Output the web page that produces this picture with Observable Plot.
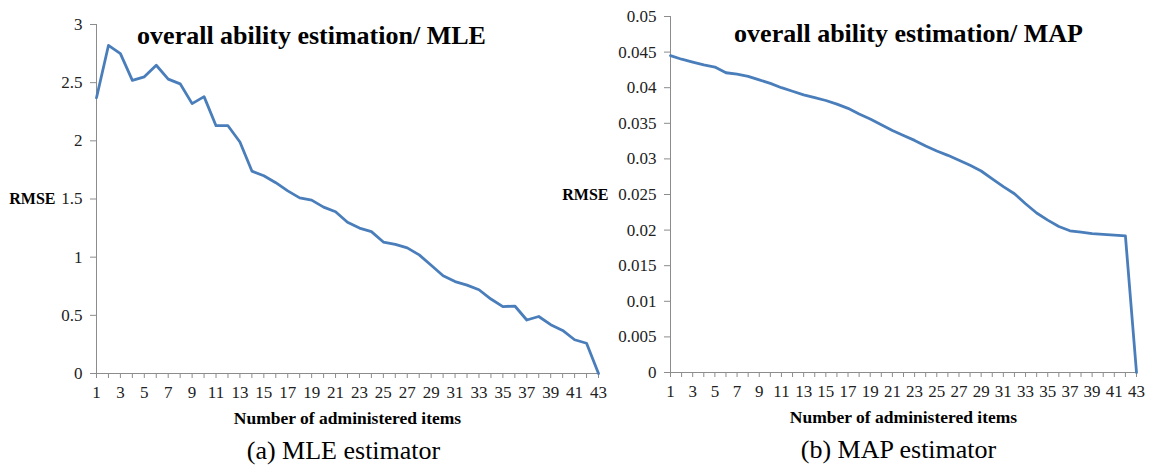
<!DOCTYPE html>
<html><head><meta charset="utf-8">
<script src="https://cdn.jsdelivr.net/npm/d3@7"></script>
<script src="https://cdn.jsdelivr.net/npm/@observablehq/plot@0.6"></script>
<style>
body{margin:0;background:#fff;}
#wrap{position:relative;width:1150px;height:468px;overflow:hidden;background:#fff;}
#left,#right{position:absolute;top:0;}
#left{left:0px}
#right{left:550px}
</style></head><body><div id="wrap"><div id="left"></div><div id="right"></div></div>
<script>
const items = [1,2,3,4,5,6,7,8,9,10,11,12,13,14,15,16,17,18,19,20,21,22,23,24,25,26,27,28,29,30,31,32,33,34,35,36,37,38,39,40,41,42,43];
const mleRmse = [2.37,2.82,2.75,2.52,2.55,2.65,2.53,2.49,2.32,2.38,2.13,2.13,1.99,1.74,1.70,1.64,1.57,1.51,1.49,1.43,1.39,1.30,1.25,1.22,1.13,1.11,1.08,1.02,0.93,0.84,0.79,0.76,0.72,0.64,0.575,0.58,0.46,0.49,0.42,0.37,0.29,0.26,0.0];
const mapRmse = [0.0445,0.0440,0.0436,0.0432,0.0429,0.0421,0.0419,0.0416,0.0411,0.0406,0.0400,0.0395,0.0390,0.0386,0.0382,0.0377,0.0371,0.0363,0.0356,0.0348,0.0340,0.0333,0.0326,0.0318,0.0311,0.0305,0.0298,0.0291,0.0283,0.0272,0.0261,0.0251,0.0237,0.0224,0.0214,0.0205,0.0199,0.0197,0.0195,0.0194,0.0193,0.0192,0.0];
const mleYTicks = [0,0.5,1,1.5,2,2.5,3];
const mapYTicks = [0,0.005,0.01,0.015,0.02,0.025,0.03,0.035,0.04,0.045,0.05];
const mleTitle = "overall ability estimation/ MLE";
const mapTitle = "overall ability estimation/ MAP";
const xTitle = "Number of administered items";
const yTitle = "RMSE";
const mleCaption = "(a) MLE estimator";
const mapCaption = "(b) MAP estimator";

const FONT = "'Liberation Serif', 'Times New Roman', serif";
const LINE = "#4a7ebb";
const AXIS = "#8c8c8c";

function panel(cfg) {
  const data = items.map((d, i) => ({item: d, rmse: cfg.values[i]}));
  const svg = Plot.plot({
    width: cfg.width, height: 468,
    marginLeft: cfg.ml, marginRight: cfg.mr, marginTop: cfg.mt, marginBottom: cfg.mb,
    style: {background: "transparent", overflow: "visible", color: "#222"},
    x: {domain: [1, 43]},
    y: {domain: cfg.ydomain},
    marks: [
      Plot.axisY({ticks: cfg.yticks, tickSize: 6, tickPadding: 8, fontSize: 17, stroke: AXIS, fill: "#222", label: null, tickFormat: d => String(d)}),
      Plot.axisX({ticks: items, tickSize: 5, tickPadding: 7, fontSize: 17, stroke: AXIS, fill: "#222", label: null, tickFormat: d => (d % 2 === 1 ? String(d) : "")}),
      Plot.ruleX([1], {stroke: AXIS, strokeWidth: 1}),
      Plot.ruleY([0], {stroke: AXIS, strokeWidth: 1}),
      Plot.line(data, {x: "item", y: "rmse", stroke: LINE, strokeWidth: 2.8, strokeLinejoin: "round"}),
      Plot.text([cfg.title], {frameAnchor: "top", lineAnchor: "middle", dx: cfg.tdx, dy: cfg.tdy, fontSize: 26, fontWeight: "bold", fill: "#000"}),
      Plot.text([yTitle], {frameAnchor: "left", lineAnchor: "middle", textAnchor: "end", dx: cfg.ydx, dy: cfg.ydy, fontSize: 16, fontWeight: "bold", fill: "#000"}),
      Plot.text([xTitle], {frameAnchor: "bottom", lineAnchor: "middle", dy: 45, fontSize: 17.5, fontWeight: "bold", fill: "#000"}),
      Plot.text([cfg.caption], {frameAnchor: "bottom", lineAnchor: "middle", dx: cfg.cdx, dy: 77, fontSize: 26, fill: "#000"})
    ]
  });
  svg.setAttribute("font-family", FONT);
  svg.style.fontFamily = FONT;
  svg.querySelectorAll("text, g").forEach(el => {
    if (el.hasAttribute("font-family")) el.setAttribute("font-family", FONT);
    el.style.fontFamily = FONT;
  });
  return svg;
}

document.getElementById("left").append(panel({
  values: mleRmse, width: 615, ml: 96, mr: 17, mt: 24, mb: 95,
  ydomain: [0, 3], yticks: mleYTicks, title: mleTitle, tdx: -36, tdy: 11,
  ydx: -41, ydy: 0, caption: mleCaption, cdx: -4
}));
document.getElementById("right").append(panel({
  values: mapRmse, width: 600, ml: 120, mr: 14, mt: 16, mb: 96,
  ydomain: [0, 0.05], yticks: mapYTicks, title: mapTitle, tdx: 5, tdy: 17,
  ydx: -62, ydy: 0, caption: mapCaption, cdx: -5
}));
</script>
</body></html>
